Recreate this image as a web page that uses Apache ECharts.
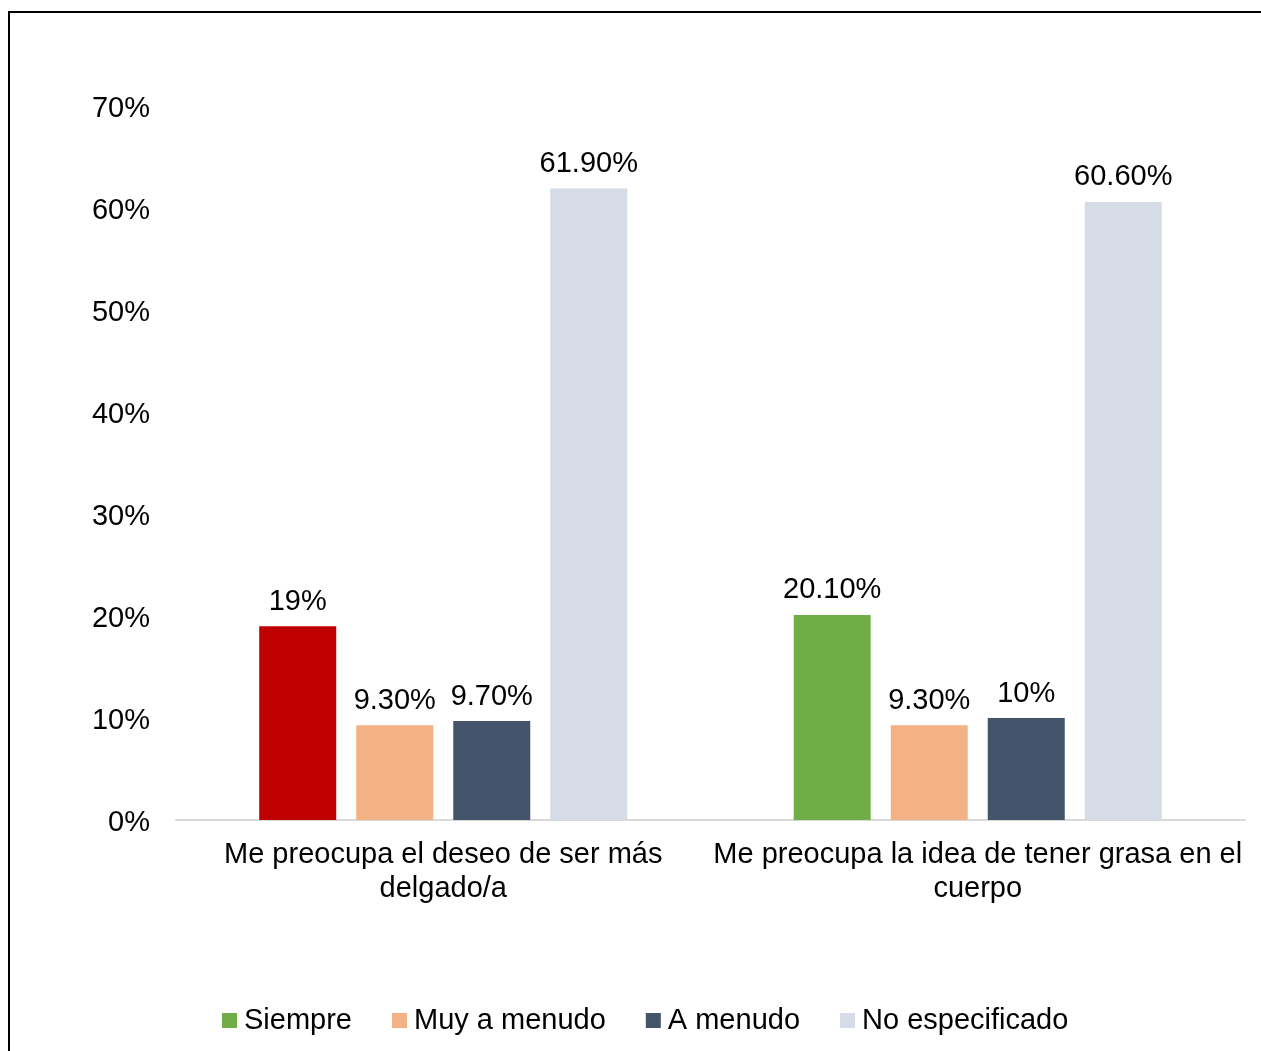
<!DOCTYPE html>
<html>
<head>
<meta charset="utf-8">
<script src="https://cdn.jsdelivr.net/npm/echarts@6/dist/echarts.min.js"></script>
<style>
html,body{margin:0;padding:0;background:#fff;}
#chart{width:1261px;height:1051px;}
</style>
</head>
<body>
<div id="chart"></div>
<script>
const categories = ['Me preocupa el deseo de ser más\ndelgado/a', 'Me preocupa la idea de tener grasa en el\ncuerpo'];
const seriesNames = ['Siempre', 'Muy a menudo', 'A menudo', 'No especificado'];
const siempre = [19, 20.1];
const muyAMenudo = [9.3, 9.3];
const aMenudo = [9.7, 10];
const noEspecificado = [61.9, 60.6];
const siempreLabels = ['19%', '20.10%'];
const muyAMenudoLabels = ['9.30%', '9.30%'];
const aMenudoLabels = ['9.70%', '10%'];
const noEspecificadoLabels = ['61.90%', '60.60%'];
const yTicks = [0, 10, 20, 30, 40, 50, 60, 70];

const colors = ['#70AD47', '#F4B183', '#44546A', '#D6DCE5'];
const FONT = '"Liberation Sans", Arial, sans-serif';
const FS = 29;

function mk(name, vals, labels, color, overrides) {
  return {
    name: name,
    type: 'bar',
    barWidth: 77,
    barGap: '26%',
    itemStyle: { color: color },
    data: vals.map((v, i) => {
      const d = { value: v };
      if (overrides && overrides[i]) d.itemStyle = { color: overrides[i] };
      return d;
    }),
    label: {
      show: true,
      position: 'top',
      distance: 10,
      color: '#000',
      fontFamily: FONT,
      fontSize: FS,
      formatter: p => labels[p.dataIndex]
    }
  };
}

const chart = echarts.init(document.getElementById('chart'));
chart.setOption({
  animation: false,
  color: colors,
  grid: { left: 176, right: 16, top: 106, bottom: 231, containLabel: false },
  legend: {
    left: 222,
    top: 1006,
    padding: 0,
    itemWidth: 15,
    itemHeight: 15,
    itemGap: 40,
    icon: 'rect',
    data: seriesNames,
    textStyle: { fontFamily: FONT, fontSize: FS, color: '#000', padding: [0, 0, 0, 2] }
  },
  xAxis: {
    type: 'category',
    data: categories,
    axisLine: { lineStyle: { color: '#D9D9D9', width: 2 } },
    axisTick: { show: false },
    axisLabel: {
      color: '#000',
      fontFamily: FONT,
      fontSize: FS,
      lineHeight: 34,
      margin: 18,
      interval: 0
    }
  },
  yAxis: {
    type: 'value',
    min: 0,
    max: 70,
    interval: 10,
    splitLine: { show: false },
    axisLine: { show: false },
    axisTick: { show: false },
    axisLabel: {
      color: '#000',
      fontFamily: FONT,
      fontSize: FS,
      margin: 26,
      formatter: v => '{a|' + v + '%}',
      rich: {
        a: { fontFamily: FONT, fontSize: FS, color: '#000', padding: [6, 0, 0, 0] }
      }
    }
  },
  graphic: [{
    type: 'polyline',
    silent: true,
    shape: { points: [[9, 1051], [9, 12], [1261, 12]] },
    style: { stroke: '#000', lineWidth: 2, fill: null }
  }],
  series: [
    mk(seriesNames[0], siempre, siempreLabels, colors[0], ['#C00000', null]),
    mk(seriesNames[1], muyAMenudo, muyAMenudoLabels, colors[1]),
    mk(seriesNames[2], aMenudo, aMenudoLabels, colors[2]),
    mk(seriesNames[3], noEspecificado, noEspecificadoLabels, colors[3])
  ]
});
</script>
</body>
</html>
